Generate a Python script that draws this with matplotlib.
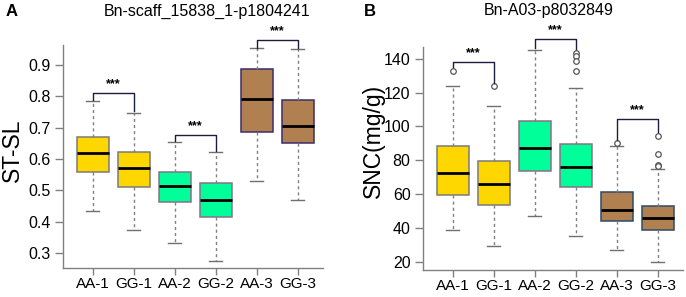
import matplotlib
matplotlib.use("Agg")
import matplotlib.pyplot as plt

plt.rcParams['font.family'] = ['Liberation Sans', 'DejaVu Sans']

groups = ["AA-1", "GG-1", "AA-2", "GG-2", "AA-3", "GG-3"]

# Panel A: ST-SL
a_whislo = [0.433, 0.373, 0.332, 0.275, 0.530, 0.470]
a_q1 = [0.557, 0.510, 0.463, 0.415, 0.685, 0.652]
a_med = [0.620, 0.572, 0.514, 0.469, 0.792, 0.705]
a_q3 = [0.670, 0.622, 0.558, 0.522, 0.888, 0.787]
a_whishi = [0.785, 0.748, 0.655, 0.622, 0.953, 0.950]
a_fliers = [[], [], [], [], [], []]
a_sig_y = [0.81, 0.677, 0.98]
a_sig_legs = [(0.788, 0.752), (0.658, 0.625), (0.956, 0.953)]

# Panel B: SNC(mg/g)
b_whislo = [38.5, 29.5, 47.3, 35.4, 27.0, 20.0]
b_q1 = [59.5, 53.6, 73.7, 64.1, 44.3, 38.8]
b_med = [72.7, 65.8, 87.0, 76.0, 50.6, 45.7]
b_q3 = [88.5, 79.6, 103.3, 89.7, 61.5, 53.0]
b_whishi = [124.0, 112.0, 145.3, 123.0, 88.5, 75.0]
b_fliers = [[133.0], [124.0], [], [143.7, 141.4, 138.5, 133.0], [90.5], [94.4, 83.8, 77.3, 76.5]]
b_sig_y = [138.4, 152.0, 104.5]
b_sig_legs = [(135.0, 126.0), (146.5, 146.0), (92.0, 96.5)]

fills = ["#FFD700", "#FFD700", "#00FF99", "#00FF99", "#B08050", "#B08050"]
edges_a = ["#7a7a7a", "#7a7a7a", "#8a7088", "#8a7088", "#3C2C6C", "#3C2C6C"]
edges_b = ["#7a7a7a", "#7a7a7a", "#8a7088", "#8a7088", "#2B4B6B", "#2B4B6B"]

fig = plt.figure(figsize=(6.86, 2.97), dpi=100)
axA = fig.add_axes([63/686, 1-268/297, 260/686, 223/297])
axB = fig.add_axes([423/686, 1-270/297, 260/686, 223/297])


def draw(ax, whislo, q1, med, q3, whishi, fliers, edges, sig_y, sig_legs, ylim, yticks, ylabels):
    stats = []
    for i in range(len(groups)):
        stats.append(dict(whislo=whislo[i], q1=q1[i], med=med[i], q3=q3[i],
                          whishi=whishi[i], fliers=fliers[i], label=groups[i]))
    pos = list(range(1, len(groups) + 1))
    bp = ax.bxp(stats, positions=pos, widths=0.78, patch_artist=True,
                showfliers=True, capwidths=0.32,
                whiskerprops=dict(color="#808080", linestyle=(0, (2.2, 2.2)), linewidth=1.0),
                capprops=dict(color="#707070", linewidth=1.0),
                medianprops=dict(color="black", linewidth=2.0),
                flierprops=dict(marker="o", markersize=4, markerfacecolor="white",
                                markeredgecolor="#555555", markeredgewidth=0.9))
    for patch, fc, ec in zip(bp["boxes"], fills, edges):
        patch.set_facecolor(fc)
        patch.set_edgecolor(ec)
        patch.set_linewidth(1.1)
    ax.set_ylim(*ylim)
    ax.set_xlim(0.27, 6.62)
    ax.set_yticks(yticks)
    ax.set_yticklabels(ylabels)
    ax.set_xticks(pos)
    ax.set_xticklabels(groups)
    for s in ["top", "right"]:
        ax.spines[s].set_visible(False)
    for s in ["left", "bottom"]:
        ax.spines[s].set_color("#808080")
        ax.spines[s].set_linewidth(1.0)
    ax.tick_params(axis="y", length=6, width=1.0, color="#808080", labelsize=11.5, pad=3)
    ax.tick_params(axis="x", length=5, width=1.0, color="#808080", labelsize=11, pad=1.5)
    # significance brackets
    span = ylim[1] - ylim[0]
    for k in range(3):
        x1, x2 = pos[2*k], pos[2*k+1]
        y = sig_y[k]
        l1, l2 = sig_legs[k]
        ax.plot([x1, x1, x2, x2], [l1, y, y, l2], color="#1c1c3c", lw=1.0, clip_on=False)
        ax.text((x1 + x2) / 2, y + span * 0.012, "***", ha="center", va="bottom",
                fontsize=9, fontweight="bold", clip_on=False)


draw(axA, a_whislo, a_q1, a_med, a_q3, a_whishi, a_fliers, edges_a, a_sig_y, a_sig_legs,
     (0.252, 0.964), [0.3, 0.4, 0.5, 0.6, 0.7, 0.8, 0.9],
     ["0.3", "0.4", "0.5", "0.6", "0.7", "0.8", "0.9"])
draw(axB, b_whislo, b_q1, b_med, b_q3, b_whishi, b_fliers, edges_b, b_sig_y, b_sig_legs,
     (15.1, 147.0), [20, 40, 60, 80, 100, 120, 140],
     ["20", "40", "60", "80", "100", "120", "140"])

fig.text(12/686, 1-11/297, "A", fontsize=12, fontweight="bold", ha="center", va="center")
fig.text(370/686, 1-11/297, "B", fontsize=12, fontweight="bold", ha="center", va="center")
fig.text(207/686, 1-11/297, "Bn-scaff_15838_1-p1804241", fontsize=11.5, ha="center", va="center")
fig.text(549/686, 1-11/297, "Bn-A03-p8032849", fontsize=11.5, ha="center", va="center")
fig.text(12/686, 1-150/297, "ST-SL", fontsize=16.5, rotation=90, ha="center", va="center")
fig.text(373/686, 1-141/297, "SNC(mg/g)", fontsize=16.5, rotation=90, ha="center", va="center")

fig.savefig("out.png", dpi=100)
